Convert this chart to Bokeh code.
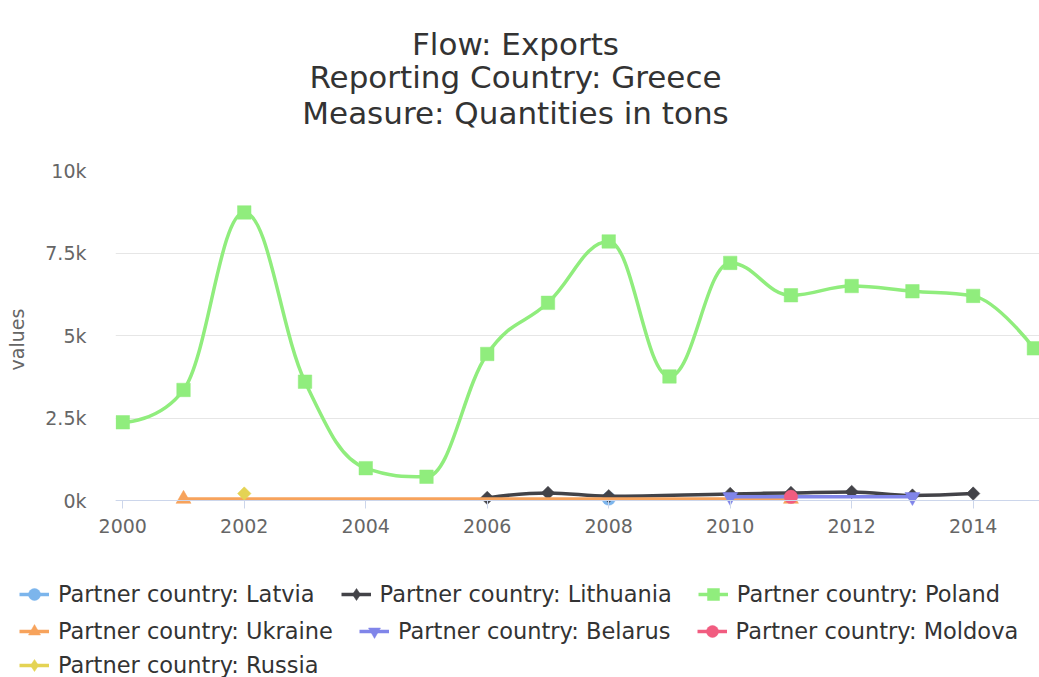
import math
from bokeh.plotting import figure
from bokeh.layouts import column
from bokeh.models import Range1d, FixedTicker, Span, Legend, LegendItem, Label
from bokeh.embed import file_html
from bokeh.resources import INLINE

# ---------------- data ----------------
title_lines = ["Flow: Exports", "Reporting Country: Greece", "Measure: Quantities in tons"]
y_axis_title = "values"

latvia_years = [2008]
latvia = [60]

lithuania_years = [2006, 2007, 2008, 2010, 2011, 2012, 2013, 2014]
lithuania = [80, 230, 130, 200, 230, 260, 150, 210]

poland_years = [2000, 2001, 2002, 2003, 2004, 2005, 2006, 2007,
                2008, 2009, 2010, 2011, 2012, 2013, 2014, 2015]
poland = [2370, 3350, 8730, 3600, 980, 720, 4440, 5990,
          7850, 3760, 7200, 6220, 6500, 6340, 6200, 4610]

ukraine_years = [2001, 2011]
ukraine = [45, 45]

belarus_years = [2010, 2013]
belarus = [110, 110]

moldova_years = [2011]
moldova = [110]

russia_years = [2002]
russia = [210]

x_ticks = [2000, 2002, 2004, 2006, 2008, 2010, 2012, 2014]
y_ticks = [0, 2500, 5000, 7500, 10000]
y_tick_labels = ["0k", "2.5k", "5k", "7.5k", "10k"]

series_names = ["Partner country: Latvia", "Partner country: Lithuania", "Partner country: Poland",
                "Partner country: Ukraine", "Partner country: Belarus", "Partner country: Moldova",
                "Partner country: Russia"]
colors = ["#7cb5ec", "#434348", "#90ed7d", "#f7a35c", "#8085e9", "#f15c80", "#e4d354"]
markers = ["circle", "diamond", "square", "triangle", "inverted_triangle", "circle", "diamond"]

FONT = "DejaVu Sans"
W = 1039
H_TITLE, H_MAIN, H_LEG = 130, 430, 117


def spline_segments(xs, ys, smoothing=1.5):
    """Highcharts-style spline: cubic bezier control points."""
    n = len(xs)
    denom = smoothing + 1
    lc = [None] * n
    rc = [None] * n
    for i in range(1, n - 1):
        x, y = xs[i], ys[i]
        lx, ly = xs[i - 1], ys[i - 1]
        nx, ny = xs[i + 1], ys[i + 1]
        lcx = (smoothing * x + lx) / denom
        lcy = (smoothing * y + ly) / denom
        rcx = (smoothing * x + nx) / denom
        rcy = (smoothing * y + ny) / denom
        corr = 0.0
        if rcx != lcx:
            corr = ((rcy - lcy) * (rcx - x)) / (rcx - lcx) + y - rcy
        lcy += corr
        rcy += corr
        if lcy > ly and lcy > y:
            lcy = max(ly, y)
            rcy = 2 * y - lcy
        elif lcy < ly and lcy < y:
            lcy = min(ly, y)
            rcy = 2 * y - lcy
        if rcy > ny and rcy > y:
            rcy = max(ny, y)
            lcy = 2 * y - rcy
        elif rcy < ny and rcy < y:
            rcy = min(ny, y)
            lcy = 2 * y - rcy
        lc[i] = (lcx, lcy)
        rc[i] = (rcx, rcy)
    seg = dict(x0=[], y0=[], x1=[], y1=[], cx0=[], cy0=[], cx1=[], cy1=[])
    for i in range(1, n):
        c0 = rc[i - 1] if rc[i - 1] is not None else (xs[i - 1], ys[i - 1])
        c1 = lc[i] if lc[i] is not None else (xs[i], ys[i])
        seg["x0"].append(xs[i - 1]); seg["y0"].append(ys[i - 1])
        seg["x1"].append(xs[i]); seg["y1"].append(ys[i])
        seg["cx0"].append(c0[0]); seg["cy0"].append(c0[1])
        seg["cx1"].append(c1[0]); seg["cy1"].append(c1[1])
    return seg


def bare_figure(h):
    f = figure(width=W, height=h, output_backend="svg", toolbar_location=None, title=None,
               x_range=Range1d(0, 1), y_range=Range1d(0, 1),
               x_axis_location=None, y_axis_location=None,
               min_border=0, min_border_left=0, min_border_right=0,
               min_border_top=0, min_border_bottom=0)
    f.outline_line_color = None
    f.xgrid.visible = False
    f.ygrid.visible = False
    return f


# ---------------- title figure ----------------
tf = bare_figure(H_TITLE)
# this figure's frame is aligned with the main plot's frame (left edge at 115 px)
title_y = [87, 54, 18]
for txt, ty in zip(title_lines, title_y):
    tf.add_layout(Label(x=400, y=ty, x_units="screen", y_units="screen", text=txt,
                        text_align="center", text_baseline="alphabetic",
                        text_font=FONT, text_font_size="31px", text_color="#333333"))

# ---------------- main figure ----------------
p = figure(width=W, height=H_MAIN, output_backend="svg", toolbar_location=None, title=None,
           x_range=Range1d(1999.88, 2015.092), y_range=Range1d(-242.4, 10000),
           min_border_left=115, min_border_right=0, min_border_top=40, min_border_bottom=52)
p.outline_line_color = None
p.background_fill_color = "white"
p.border_fill_color = "white"

p.xaxis.ticker = FixedTicker(ticks=x_ticks)
p.xaxis.axis_line_color = None
p.xaxis.major_tick_line_color = "#ccd6eb"
p.xaxis.major_tick_in = 8
p.xaxis.major_tick_out = 0
p.xaxis.minor_tick_line_color = None
p.xaxis.major_label_standoff = 10
p.xaxis.major_label_text_font = FONT
p.xaxis.major_label_text_font_size = "19px"
p.xaxis.major_label_text_color = "#666666"

p.yaxis.ticker = FixedTicker(ticks=y_ticks)
p.yaxis.major_label_overrides = {t: s for t, s in zip(y_ticks, y_tick_labels)}
p.yaxis.axis_line_color = None
p.yaxis.major_tick_line_color = None
p.yaxis.minor_tick_line_color = None
p.yaxis.major_tick_in = 0
p.yaxis.major_tick_out = 0
p.yaxis.major_label_standoff = 29
p.yaxis.major_label_text_font = FONT
p.yaxis.major_label_text_font_size = "19px"
p.yaxis.major_label_text_color = "#666666"
p.yaxis.axis_label = y_axis_title
p.yaxis.axis_label_text_font = FONT
p.yaxis.axis_label_text_font_size = "19px"
p.yaxis.axis_label_text_font_style = "normal"
p.yaxis.axis_label_text_color = "#666666"
p.yaxis.axis_label_standoff = 14

p.xgrid.grid_line_color = None
p.ygrid.grid_line_color = "#e6e6e6"
p.ygrid.grid_line_width = 1

p.add_layout(Span(location=0, dimension="width", line_color="#ccd6eb", line_width=1))

all_years = [latvia_years, lithuania_years, poland_years, ukraine_years,
             belarus_years, moldova_years, russia_years]
all_vals = [latvia, lithuania, poland, ukraine, belarus, moldova, russia]

for xs, ys, col, mk in zip(all_years, all_vals, colors, markers):
    seg = spline_segments(xs, ys)
    p.bezier(x0="x0", y0="y0", x1="x1", y1="y1", cx0="cx0", cy0="cy0", cx1="cx1", cy1="cy1",
             source=seg, line_color=col, line_width=3.5)
    if mk == "diamond":
        p.scatter(xs, ys, marker="square", angle=math.pi / 4, size=9.5,
                  fill_color=col, line_color=col, line_width=0.5)
    elif mk in ("triangle", "inverted_triangle"):
        p.scatter(xs, ys, marker=mk, size=15, fill_color=col, line_color=col, line_width=0.5)
    else:
        p.scatter(xs, ys, marker=mk, size=13.5, fill_color=col, line_color=col, line_width=0.5)

# ---------------- legend figure ----------------
lf = bare_figure(H_LEG)
try:
    lf.frame_align = False
except Exception:
    pass
items = []
for name, xs, ys, col, mk in zip(series_names, all_years, all_vals, colors, markers):
    # same series, outside this figure's visible range: only used as legend glyph sources
    lr = lf.line(xs, ys, line_color=col, line_width=3.5)
    sr = lf.scatter(xs, ys, marker=mk, fill_color=col, line_color=col, line_width=0.5)
    items.append(LegendItem(label=name, renderers=[lr, sr]))

rows = [items[0:3], items[3:6], items[6:7]]
row_bottom = [68, 31, -3]
for its, yy in zip(rows, row_bottom):
    leg = Legend(items=its, orientation="horizontal", location=(19, yy),
                 label_text_font=FONT, label_text_font_size="22.5px", label_text_color="#333333",
                 glyph_width=30, glyph_height=30, label_height=30, label_standoff=9,
                 spacing=26, padding=0, margin=0, border_line_color=None,
                 background_fill_alpha=0, click_policy="none")
    lf.add_layout(leg, "center")

layout = column(tf, p, lf, spacing=0)
open("out.html", "w").write(file_html(layout, INLINE))
